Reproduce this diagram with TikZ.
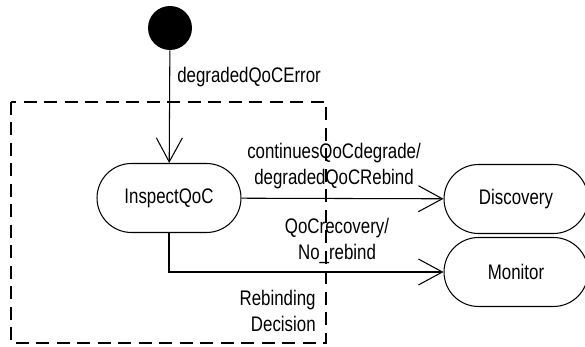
\documentclass[tikz,border=0pt]{standalone}
\usepackage{fontspec}
\setmainfont{Liberation Sans}[FakeStretch=0.8]
\usepackage{tikz}
\usetikzlibrary{
  shapes.misc,
  arrows.meta,
  positioning
}

\begin{document}
\begin{tikzpicture}[
  x=0.02cm, y=-0.02cm,
  every node/.style={font=\fontsize{12}{15.2}\selectfont},
  state/.style={rounded rectangle, draw, line width=0.6pt,
    minimum width=2.88cm, minimum height=1.38cm, inner sep=0pt},
  start/.style={circle, fill=black, minimum size=0.88cm, inner sep=0pt},
  lbl/.style={align=center, inner sep=0pt},
  arr/.style={-{Straight Barb[length=4.8mm, width=5.2mm]},
    line width=0.6pt},
  region/.style={dashed, dash pattern=on 2.6mm off 1.5mm, line width=0.8pt}
]
  \useasboundingbox (0,0) rectangle (585,347);
  \node[start] (init) at (170,28) {};
  \node[state] (inspect) at (169,198) {InspectQoC};
  \node[state] (discovery) at (516,199) {Discovery};
  \node[state] (monitor) at (516,272) {Monitor};

  % Rebinding decision region
  \draw[region] (11,102) rectangle (326,343);
  \node[lbl, anchor=east, align=right] (decision) at (316,311)
      {Rebinding\\Decision};

  \draw[arr] (init) -- (inspect);
  \node[lbl, anchor=west] (error) at (177,77) {degradedQoCError};
  \draw[arr] (inspect) -- (discovery);
  \node[lbl] (degrade) at (334,166) {continuesQoCdegrade/\\degradedQoCRebind};
  \draw[arr] (inspect.south) |- (monitor.west);
  \node[lbl] (recover) at (337,241) {QoCrecovery/\\No\_rebind};
\end{tikzpicture}
\end{document}
